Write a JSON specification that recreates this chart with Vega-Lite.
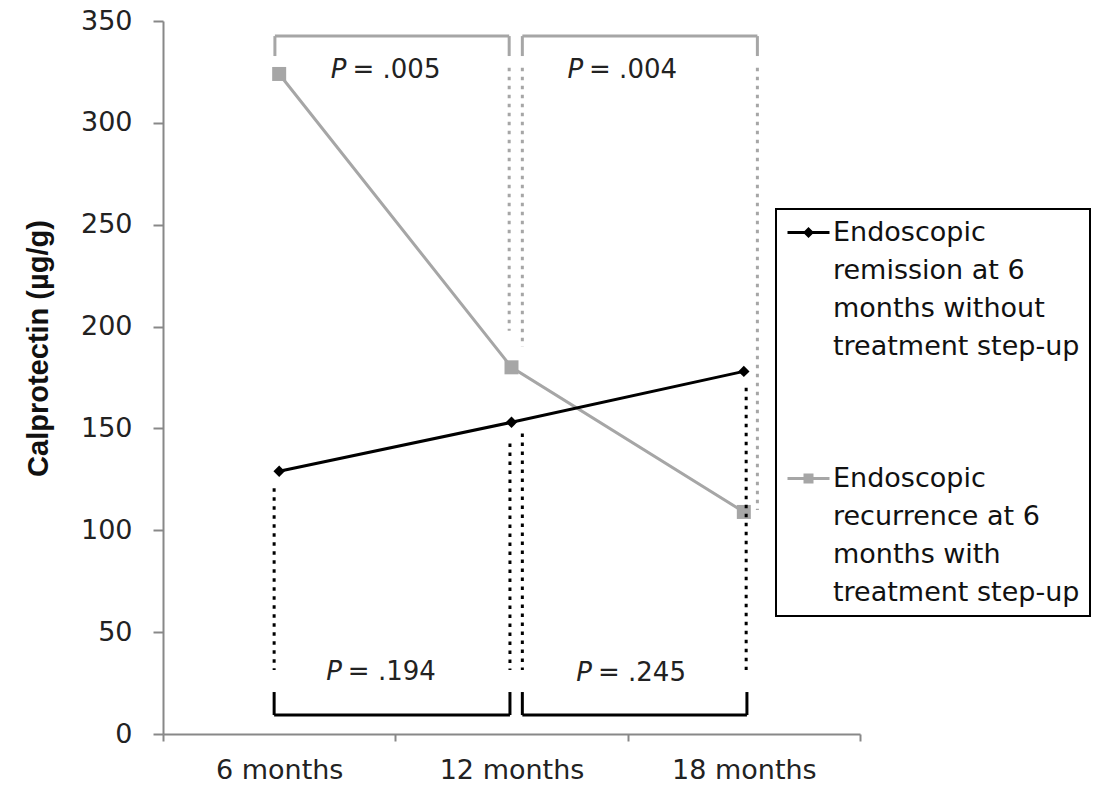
{
  "$schema": "https://vega.github.io/schema/vega-lite/v6.json",
  "width": 697,
  "height": 713,
  "autosize": {"type": "none"},
  "padding": {"left": 163, "top": 21, "right": 241, "bottom": 52},
  "background": "white",
  "config": {"view": {"stroke": null}, "font": "DejaVu Sans"},
  "datasets": {
    "calprotectin": [
      {"series": "Endoscopic recurrence at 6 months with treatment step-up", "month": 6, "value": 324},
      {"series": "Endoscopic recurrence at 6 months with treatment step-up", "month": 12, "value": 180},
      {"series": "Endoscopic recurrence at 6 months with treatment step-up", "month": 18, "value": 109},
      {"series": "Endoscopic remission at 6 months without treatment step-up", "month": 6, "value": 129},
      {"series": "Endoscopic remission at 6 months without treatment step-up", "month": 12, "value": 153},
      {"series": "Endoscopic remission at 6 months without treatment step-up", "month": 18, "value": 178}
    ],
    "brackets": [
      {"series": "Endoscopic recurrence at 6 months with treatment step-up", "month": 5.89, "month2": 11.94, "value": 342.6, "value2": 342.6},
      {"series": "Endoscopic recurrence at 6 months with treatment step-up", "month": 5.89, "month2": 5.89, "value": 342.6, "value2": 332.8},
      {"series": "Endoscopic recurrence at 6 months with treatment step-up", "month": 11.94, "month2": 11.94, "value": 342.6, "value2": 332.8},
      {"series": "Endoscopic recurrence at 6 months with treatment step-up", "month": 12.28, "month2": 18.35, "value": 342.6, "value2": 342.6},
      {"series": "Endoscopic recurrence at 6 months with treatment step-up", "month": 12.28, "month2": 12.28, "value": 342.6, "value2": 332.8},
      {"series": "Endoscopic recurrence at 6 months with treatment step-up", "month": 18.35, "month2": 18.35, "value": 342.6, "value2": 332.8},
      {"series": "Endoscopic remission at 6 months without treatment step-up", "month": 5.87, "month2": 11.96, "value": 9.3, "value2": 9.3},
      {"series": "Endoscopic remission at 6 months without treatment step-up", "month": 5.87, "month2": 5.87, "value": 9.3, "value2": 20.6},
      {"series": "Endoscopic remission at 6 months without treatment step-up", "month": 11.96, "month2": 11.96, "value": 9.3, "value2": 20.6},
      {"series": "Endoscopic remission at 6 months without treatment step-up", "month": 12.28, "month2": 18.08, "value": 9.3, "value2": 9.3},
      {"series": "Endoscopic remission at 6 months without treatment step-up", "month": 12.28, "month2": 12.28, "value": 9.3, "value2": 20.6},
      {"series": "Endoscopic remission at 6 months without treatment step-up", "month": 18.08, "month2": 18.08, "value": 9.3, "value2": 20.6}
    ],
    "guides": [
      {"series": "Endoscopic recurrence at 6 months with treatment step-up", "month": 11.94, "month2": 11.94, "value": 327, "value2": 198},
      {"series": "Endoscopic recurrence at 6 months with treatment step-up", "month": 12.28, "month2": 12.28, "value": 327, "value2": 190},
      {"series": "Endoscopic recurrence at 6 months with treatment step-up", "month": 18.35, "month2": 18.35, "value": 327, "value2": 110},
      {"series": "Endoscopic remission at 6 months without treatment step-up", "month": 5.87, "month2": 5.87, "value": 120.6, "value2": 31.4},
      {"series": "Endoscopic remission at 6 months without treatment step-up", "month": 11.96, "month2": 11.96, "value": 142.6, "value2": 31.4},
      {"series": "Endoscopic remission at 6 months without treatment step-up", "month": 12.28, "month2": 12.28, "value": 147.5, "value2": 31.4},
      {"series": "Endoscopic remission at 6 months without treatment step-up", "month": 18.06, "month2": 18.06, "value": 170, "value2": 31.4}
    ],
    "pvalues": [
      {"stat": "P", "rest": "= .005", "month": 7.79, "value": 326},
      {"stat": "P", "rest": "= .004", "month": 13.9, "value": 326},
      {"stat": "P", "rest": "= .194", "month": 7.67, "value": 30.5},
      {"stat": "P", "rest": "= .245", "month": 14.13, "value": 30}
    ]
  },
  "layer": [
    {
      "data": {"name": "calprotectin"},
      "mark": {"type": "line", "strokeWidth": 3},
      "encoding": {
        "x": {
          "field": "month", "type": "quantitative",
          "scale": {"domain": [3, 21], "nice": false, "zero": false},
          "axis": {
            "title": null,
            "values": [3, 6, 9, 12, 15, 18, 21],
            "labelExpr": "datum.value % 6 === 0 ? datum.value + ' months' : ''",
            "grid": false,
            "domainColor": "#888888", "domainWidth": 2,
            "tickColor": "#888888", "tickWidth": 2, "tickSize": 7,
            "tickOpacity": {"condition": {"test": "datum.value % 6 === 0", "value": 0}, "value": 1},
            "labelFont": "DejaVu Sans", "labelFontSize": 27, "labelColor": "#222222",
            "labelPadding": 16, "labelFlush": false, "labelOverlap": false
          }
        },
        "y": {
          "field": "value", "type": "quantitative",
          "scale": {"domain": [0, 350], "nice": false},
          "axis": {
            "title": "Calprotectin (µg/g)",
            "titleFont": "Liberation Sans", "titleFontSize": 29, "titleFontWeight": "bold", "titleColor": "#111111",
            "titleAngle": -90, "titleAlign": "center", "titleBaseline": "alphabetic",
            "titleX": -116, "titleY": 327,
            "values": [0, 50, 100, 150, 200, 250, 300, 350],
            "grid": false,
            "domainColor": "#888888", "domainWidth": 2,
            "tickColor": "#888888", "tickWidth": 2, "tickSize": 10,
            "labelFont": "DejaVu Sans", "labelFontSize": 27, "labelColor": "#222222",
            "labelPadding": 21
          }
        },
        "color": {
          "field": "series", "type": "nominal",
          "scale": {
            "domain": ["Endoscopic remission at 6 months without treatment step-up", "Endoscopic recurrence at 6 months with treatment step-up"],
            "range": ["#000000", "#a6a6a6"]
          },
          "legend": {
            "title": null,
            "orient": "none", "legendX": 613, "legendY": 188,
            "direction": "vertical",
            "padding": 10,
            "strokeColor": "#000000", "fillColor": "#ffffff",
            "symbolSize": 400, "symbolOffset": 9,
            "labelOffset": 11,
            "labelFont": "DejaVu Sans", "labelFontSize": 27, "labelColor": "#111111", "labelLimit": 400,
            "rowPadding": 104,
            "labelExpr": "test(/remission/, datum.label) ? ['Endoscopic', 'remission at 6', 'months without', 'treatment step-up'] : ['Endoscopic', 'recurrence at 6', 'months with', 'treatment step-up']",
            "encode": {
              "legend": {"update": {"strokeWidth": {"value": 2}}},
              "symbols": {"update": {
                "shape": {"signal": "test(/remission/, datum.value) ? 'M-2.1,-0.15L2.1,-0.15L2.1,0.15L-2.1,0.15ZM0,-0.55L0.55,0L0,0.55L-0.55,0Z' : 'M-2.1,-0.15L2.1,-0.15L2.1,0.15L-2.1,0.15ZM-0.5,-0.5L0.5,-0.5L0.5,0.5L-0.5,0.5Z'"},
                "fill": {"scale": "color", "field": "value"},
                "strokeWidth": {"value": 0}
              }},
              "labels": {"update": {"lineHeight": {"value": 38}}}
            }
          }
        }
      }
    },
    {
      "data": {"name": "calprotectin"},
      "transform": [{"filter": "test(/recurrence/, datum.series)"}],
      "mark": {"type": "point", "shape": "square", "size": 196, "filled": true, "opacity": 1, "strokeWidth": 0, "color": "#a6a6a6"},
      "encoding": {
        "x": {"field": "month", "type": "quantitative"},
        "y": {"field": "value", "type": "quantitative"}
      }
    },
    {
      "data": {"name": "calprotectin"},
      "transform": [{"filter": "test(/remission/, datum.series)"}],
      "mark": {"type": "point", "shape": "diamond", "size": 130, "filled": true, "opacity": 1, "strokeWidth": 0, "color": "#000000"},
      "encoding": {
        "x": {"field": "month", "type": "quantitative"},
        "y": {"field": "value", "type": "quantitative"}
      }
    },
    {
      "data": {"name": "brackets"},
      "mark": {"type": "rule", "strokeWidth": 3},
      "encoding": {
        "x": {"field": "month", "type": "quantitative"},
        "x2": {"field": "month2"},
        "y": {"field": "value", "type": "quantitative"},
        "y2": {"field": "value2"},
        "color": {"field": "series", "type": "nominal"}
      }
    },
    {
      "data": {"name": "guides"},
      "mark": {"type": "rule", "strokeWidth": 3, "strokeDash": [3.5, 5.5]},
      "encoding": {
        "x": {"field": "month", "type": "quantitative"},
        "x2": {"field": "month2"},
        "y": {"field": "value", "type": "quantitative"},
        "y2": {"field": "value2"},
        "color": {"field": "series", "type": "nominal"}
      }
    },
    {
      "data": {"name": "pvalues"},
      "mark": {"type": "text", "font": "DejaVu Sans", "fontSize": 26, "fontStyle": "italic", "align": "right", "baseline": "middle", "dx": -2, "color": "#222222"},
      "encoding": {
        "x": {"field": "month", "type": "quantitative"},
        "y": {"field": "value", "type": "quantitative"},
        "text": {"field": "stat"}
      }
    },
    {
      "data": {"name": "pvalues"},
      "mark": {"type": "text", "font": "DejaVu Sans", "fontSize": 26, "align": "left", "baseline": "middle", "dx": 4, "color": "#222222"},
      "encoding": {
        "x": {"field": "month", "type": "quantitative"},
        "y": {"field": "value", "type": "quantitative"},
        "text": {"field": "rest"}
      }
    }
  ]
}
